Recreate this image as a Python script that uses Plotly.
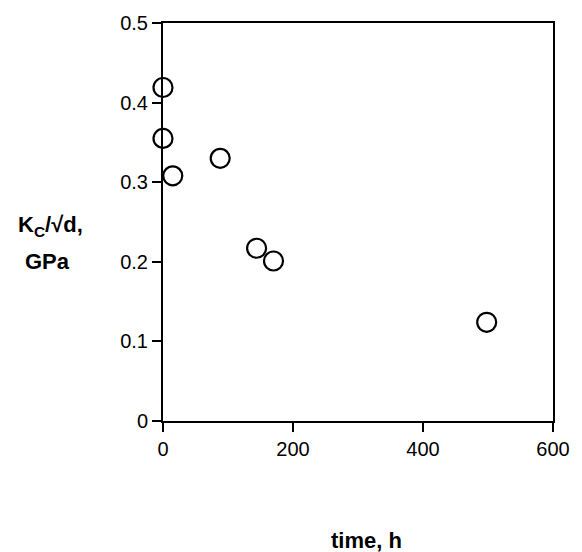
import plotly.graph_objects as go

time_h = [0, 0, 15, 88, 144, 170, 498]
kc_sqrt_d = [0.419, 0.355, 0.308, 0.330, 0.217, 0.201, 0.124]

x_ticks = [0, 200, 400, 600]
y_ticks = [0, 0.1, 0.2, 0.3, 0.4, 0.5]
y_tick_labels = ["0", "0.1", "0.2", "0.3", "0.4", "0.5"]

FONT = "Liberation Sans, Arial, Helvetica, sans-serif"

fig = go.Figure()
fig.add_trace(go.Scatter(
    x=time_h, y=kc_sqrt_d, mode="markers",
    marker=dict(symbol="circle-open", size=19, color="black", line=dict(width=2.2, color="black")),
    cliponaxis=False, showlegend=False,
))

axis_common = dict(
    showgrid=False, zeroline=False, showline=True, linecolor="black", linewidth=2,
    mirror=True, ticks="outside", ticklen=9, tickwidth=2, tickcolor="black",
    tickfont=dict(family=FONT, size=20, color="black"),
)
fig.update_xaxes(range=[0, 600], tickvals=x_ticks, **axis_common)
fig.update_yaxes(range=[0, 0.5], tickvals=y_ticks, ticktext=y_tick_labels, **axis_common)

fig.update_layout(
    width=582, height=552,
    margin=dict(l=163, r=22, t=20, b=131),
    plot_bgcolor="white", paper_bgcolor="white",
    font=dict(family=FONT, color="black"),
    annotations=[
        dict(text="<b>K<sub>C</sub>/√d,</b>", xref="paper", yref="paper",
             x=-0.378, y=0.49, xanchor="left", yanchor="middle", showarrow=False,
             font=dict(family=FONT, size=22, color="black")),
        dict(text="<b>GPa</b>", xref="paper", yref="paper",
             x=-0.360, y=0.401, xanchor="left", yanchor="middle", showarrow=False,
             font=dict(family=FONT, size=22, color="black")),
        dict(text="<b>time, h</b>", xref="paper", yref="paper",
             x=0.521, y=-0.299, xanchor="center", yanchor="middle", showarrow=False,
             font=dict(family=FONT, size=22, color="black")),
    ],
)

fig.write_html("out.html")
